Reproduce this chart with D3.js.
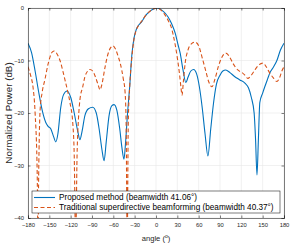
<!DOCTYPE html>
<html><head><meta charset="utf-8">
<script src="https://cdn.jsdelivr.net/npm/d3@7"></script>
<style>body{margin:0;background:#fff;} svg{display:block;font-family:"Liberation Sans",Arial,sans-serif;}</style>
</head><body>
<svg id="c" width="295" height="246"></svg>
<script>
const xTicks = [-180,-150,-120,-90,-60,-30,0,30,60,90,120,150,180];
const yTicks = [0,-10,-20,-30,-40];
const seriesNames = ["Proposed method (beamwidth 41.06°)", "Traditional superdirective beamforming (beamwidth 40.37°)"];

const blueAngle = [-180,-175,-170,-165,-160,-155,-152,-148,-144,-141,-138,-134,-130,-125,-120,-115,-110,-107,-104,-100,-95,-89,-84,-80,-76,-73,-70,-66,-62,-59,-55,-51,-48,-45,-43,-40,-37,-34,-31,-28,-24,-20,-15,-10,-5,2,8,13,17,22,27,31,34,38,42,45,49,53,57,61,65,69,73,77,81,85,90,94,98,104,110,118,125,130,134,138,140,142,144,146,150,153,157,160,165,170,175,180];
const blueDb = [-6.7,-8.5,-12,-16,-19.5,-21.8,-22.5,-23,-24.5,-25.5,-24,-19,-16.5,-15.8,-17,-20,-23.5,-25.1,-23.5,-20.5,-19.2,-18.9,-20,-23,-27,-29.1,-25.5,-20.5,-18.6,-18.4,-19.5,-23,-26.5,-28.8,-26,-20,-15,-9,-5.8,-4.2,-3.2,-2.6,-1.5,-0.8,-0.3,0,-0.4,-1,-1.7,-3,-4.8,-7,-8.6,-11.8,-14.2,-13.2,-12,-11.7,-12.5,-15,-19,-24,-28.2,-23,-18,-14.5,-12.8,-12,-11.8,-12.3,-13,-13.7,-14.3,-15.2,-17,-20,-25,-31.8,-25,-18,-16.2,-15,-13.5,-12.4,-11.3,-10,-8,-6.7];

const redAngle = [-180,-176,-173,-170,-167,-166,-165,-163,-160,-156,-152,-149,-146,-143,-139,-135,-131,-128,-124,-121,-117,-115,-113,-111,-109,-107,-103,-100,-96,-93,-89,-85,-81,-78.7,-76,-72,-68,-64,-60.5,-57,-53,-50,-46,-43.5,-42,-40.5,-39,-37,-34,-31,-28,-24,-20,-15,-10,-5,1,6,10,14,18,21,24,27,30,33,35,36.6,38.5,41,45,50,55,60,65,70,74,78.7,83,88,93,98,103,108,115,121,125,129,134,139,145,150.5,155,160,165,170,174,177,180];
const redDb = [-11.2,-13,-15,-20,-32,-45,-32,-19.5,-16,-13.5,-10.8,-9.3,-8.4,-8.2,-8.8,-10,-12,-13.7,-16,-18,-22,-28,-45,-28,-21,-17.5,-15,-13.1,-12,-11.7,-12,-13.2,-14.8,-15.6,-14.5,-11.5,-9,-7.6,-7.2,-7.8,-9.3,-10.7,-13.5,-16,-22,-45,-22,-15,-9.5,-6,-4.3,-3.2,-2.5,-1.5,-0.8,-0.3,0,-0.3,-0.8,-1.6,-2.6,-3.5,-5,-7,-9.5,-12.5,-15,-16.6,-14,-10.5,-8,-6.8,-6.5,-7.2,-9.5,-12,-14,-15,-13.5,-11,-9.3,-8.6,-9.2,-10.5,-11.8,-12.3,-12.8,-13.4,-12.8,-11.8,-10.8,-10.5,-11.2,-12.4,-13.3,-14,-13.2,-12,-11.2];

const L=28, R=284, T=8, B=218;
const svg = d3.select("#c");
const x = d3.scaleLinear().domain([-180,180]).range([L,R]);
const y = d3.scaleLinear().domain([-40,0]).range([B,T]);
const txt = "#262626";

// grid
const g = svg.append("g");
g.selectAll("line.gx").data(xTicks).join("line").attr("x1",d=>x(d)).attr("x2",d=>x(d)).attr("y1",T).attr("y2",B).attr("stroke","#e8e8e8").attr("stroke-width",0.6);
g.selectAll("line.gy").data(yTicks).join("line").attr("y1",d=>y(d)).attr("y2",d=>y(d)).attr("x1",L).attr("x2",R).attr("stroke","#e8e8e8").attr("stroke-width",0.6);

svg.append("clipPath").attr("id","clp").append("rect").attr("x",L).attr("y",T).attr("width",R-L).attr("height",B-T);

const line = d3.line().x(d=>x(d[0])).y(d=>y(d[1])).curve(d3.curveMonotoneX);
const blue = blueAngle.map((a,i)=>[a,blueDb[i]]);
const red = redAngle.map((a,i)=>[a,redDb[i]]);
const pg = svg.append("g").attr("clip-path","url(#clp)");
pg.append("path").attr("d",line(blue)).attr("fill","none").attr("stroke","#0072BD").attr("stroke-width",1.1);
pg.append("path").attr("d",line(red)).attr("fill","none").attr("stroke","#D95319").attr("stroke-width",1.1).attr("stroke-dasharray","4,2.5");

// axes
const xa = svg.append("g").attr("transform",`translate(0,${B})`).call(d3.axisBottom(x).tickValues(xTicks).tickSize(-2.5).tickPadding(5));
const xt = svg.append("g").attr("transform",`translate(0,${T})`).call(d3.axisTop(x).tickValues(xTicks).tickSize(-2.5).tickFormat(""));
const ya = svg.append("g").attr("transform",`translate(${L},0)`).call(d3.axisLeft(y).tickValues(yTicks).tickSize(-2.5).tickPadding(4));
const yr = svg.append("g").attr("transform",`translate(${R},0)`).call(d3.axisRight(y).tickValues(yTicks).tickSize(-2.5).tickFormat(""));
[xa,xt,ya,yr].forEach(a=>{a.selectAll("path").attr("stroke",txt).attr("stroke-width",0.6);a.selectAll("line").attr("stroke",txt).attr("stroke-width",0.6);a.selectAll("text").attr("fill",txt).attr("font-size","5.8px").attr("font-family","Liberation Sans, Arial, sans-serif");});

// labels
const xl = svg.append("text").attr("x",156).attr("y",241).attr("text-anchor","middle").attr("font-size","7.6px").attr("fill",txt);
xl.append("tspan").text("angle (");
xl.append("tspan").text("o").attr("font-size","5px").attr("dy",-3);
xl.append("tspan").text(")").attr("dy",3);
svg.append("text").attr("transform","translate(12,113) rotate(-90)").attr("text-anchor","middle").attr("font-size","9.8px").attr("fill",txt).text("Normalized Power (dB)");

// legend
const lg = svg.append("g");
lg.append("rect").attr("x",32).attr("y",191).attr("width",248).attr("height",22).attr("fill","#fff").attr("stroke",txt).attr("stroke-width",0.6);
const items=[{c:"#0072BD",dash:null,yy:197.5},{c:"#D95319",dash:"4,2.5",yy:207.5}];
items.forEach((it,i)=>{
  lg.append("line").attr("x1",34).attr("x2",55).attr("y1",it.yy).attr("y2",it.yy).attr("stroke",it.c).attr("stroke-width",1.1).attr("stroke-dasharray",it.dash);
  lg.append("text").attr("x",59).attr("y",it.yy+2.9).attr("font-size","8.2px").attr("fill","#000").text(seriesNames[i]);
});
</script>
</body></html>
